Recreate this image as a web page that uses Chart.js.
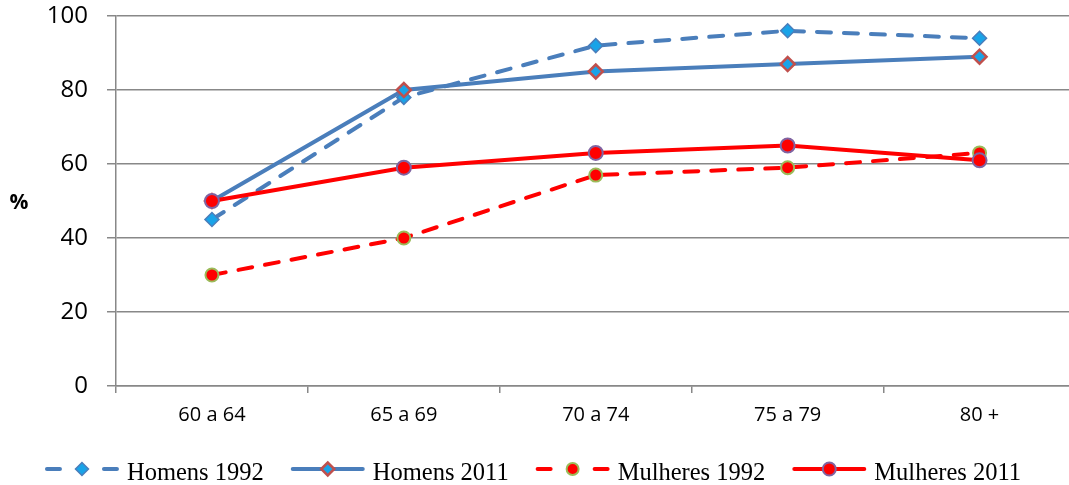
<!DOCTYPE html>
<html lang="pt">
<head>
<meta charset="utf-8">
<title>Homens e Mulheres, 1992 e 2011</title>
<script src="https://cdn.jsdelivr.net/npm/chart.js@4.4.1/dist/chart.umd.min.js"></script>
<style>
  html, body { margin: 0; padding: 0; background: #ffffff; overflow: hidden; }
  #wrap { width: 1085px; height: 485px; }
</style>
</head>
<body>
<div id="wrap"><canvas id="chart" width="1085" height="485"></canvas></div>
<script>
// Age groups and percentages per sex and year
const categories = ['60 a 64', '65 a 69', '70 a 74', '75 a 79', '80 +'];
const homens1992 = [45, 78, 92, 96, 94];
const homens2011 = [50, 80, 85, 87, 89];
const mulheres1992 = [30, 40, 57, 59, 63];
const mulheres2011 = [50, 59, 63, 65, 61];
const seriesNames = ['Homens 1992', 'Homens 2011', 'Mulheres 1992', 'Mulheres 2011'];
const yTicks = [0, 20, 40, 60, 80, 100];
const axisUnit = '%';

const BLUE = '#4a7ebb';
const CYAN = '#19a3e8';
const RED = '#ff0000';
const BRICK = '#c0504d';
const GREEN = '#9bbb59';
const PURPLE = '#8064a2';
const GRID = '#888888';
const DASH = [14, 13];

const datasets = [
  {
    label: seriesNames[0], data: homens1992, order: 3,
    borderColor: BLUE, borderWidth: 4, borderDash: DASH, borderCapStyle: 'round',
    pointStyle: 'rectRot', pointRadius: 7, pointBackgroundColor: CYAN,
    pointBorderColor: BLUE, pointBorderWidth: 1.5
  },
  {
    label: seriesNames[1], data: homens2011, order: 2,
    borderColor: BLUE, borderWidth: 4, borderCapStyle: 'round',
    pointStyle: 'rectRot', pointRadius: 7, pointBackgroundColor: CYAN,
    pointBorderColor: BRICK, pointBorderWidth: 2.5
  },
  {
    label: seriesNames[2], data: mulheres1992, order: 1,
    borderColor: RED, borderWidth: 4, borderDash: DASH, borderCapStyle: 'round',
    pointStyle: 'circle', pointRadius: 6.5, pointBackgroundColor: RED,
    pointBorderColor: GREEN, pointBorderWidth: 2
  },
  {
    label: seriesNames[3], data: mulheres2011, order: 0,
    borderColor: RED, borderWidth: 4, borderCapStyle: 'round',
    pointStyle: 'circle', pointRadius: 7, pointBackgroundColor: RED,
    pointBorderColor: PURPLE, pointBorderWidth: 2
  }
];

// Bottom legend: line sample with marker, followed by the series name
const bottomLegend = {
  id: 'bottomLegend',
  afterDraw(chart) {
    const ctx = chart.ctx;
    const font = '24.5px "Liberation Serif", "Times New Roman", serif';
    ctx.save();
    ctx.font = font;
    const sample = 74, gapText = 8, gapItem = 27;
    const widths = chart.data.datasets.map(d => ctx.measureText(d.label).width);
    let total = 0;
    widths.forEach((w, i) => { total += sample + gapText + w + (i < widths.length - 1 ? gapItem : 0); });
    let x = 533 - total / 2;
    const yLine = 469, yText = 480;
    chart.data.datasets.forEach((d, i) => {
      ctx.save();
      ctx.strokeStyle = d.borderColor;
      ctx.lineWidth = 4;
      ctx.lineCap = 'round';
      ctx.beginPath();
      if (d.borderDash) {
        ctx.moveTo(x + 2, yLine); ctx.lineTo(x + 15, yLine);
        ctx.moveTo(x + sample - 15, yLine); ctx.lineTo(x + sample - 2, yLine);
      } else {
        ctx.moveTo(x + 2, yLine); ctx.lineTo(x + sample - 2, yLine);
      }
      ctx.stroke();
      ctx.fillStyle = d.pointBackgroundColor;
      ctx.strokeStyle = d.pointBorderColor;
      ctx.lineWidth = d.pointBorderWidth;
      Chart.helpers.drawPoint(ctx, {
        pointStyle: d.pointStyle, radius: d.pointRadius - 0.5, borderWidth: d.pointBorderWidth
      }, x + sample / 2, yLine);
      ctx.restore();
      ctx.fillStyle = '#000000';
      ctx.font = font;
      ctx.textAlign = 'left';
      ctx.textBaseline = 'alphabetic';
      ctx.fillText(d.label, x + sample + gapText, yText);
      x += sample + gapText + widths[i] + gapItem;
    });
    ctx.restore();
  }
};

// Horizontal unit label beside the value axis
const unitLabel = {
  id: 'unitLabel',
  afterDraw(chart) {
    const ctx = chart.ctx;
    ctx.save();
    ctx.font = 'bold 21px "Open Sans", "Liberation Sans", sans-serif';
    ctx.fillStyle = '#000000';
    ctx.textAlign = 'center';
    ctx.textBaseline = 'middle';
    ctx.fillText(axisUnit, 19, 203);
    ctx.restore();
  }
};

new Chart(document.getElementById('chart'), {
  type: 'line',
  data: { labels: categories, datasets },
  plugins: [bottomLegend, unitLabel],
  options: {
    responsive: false,
    animation: false,
    layout: { padding: { left: 0, right: 4, top: 16, bottom: 49 } },
    plugins: { legend: { display: false }, tooltip: { enabled: false } },
    elements: { line: { tension: 0, fill: false } },
    scales: {
      x: {
        offset: true,
        grid: {
          display: true, drawOnChartArea: false, drawTicks: true,
          tickLength: 7, offset: true, color: GRID, lineWidth: 1.5
        },
        border: { display: true, color: GRID, width: 1.5 },
        ticks: {
          color: '#000000', padding: 10, maxRotation: 0,
          font: { family: '"Open Sans", "Liberation Sans", sans-serif', size: 20 }
        },
        afterFit(scale) { scale.height = 50; }
      },
      y: {
        min: 0, max: 100,
        afterBuildTicks(scale) { scale.ticks = yTicks.map(v => ({ value: v })); },
        grid: { color: GRID, lineWidth: 1.5, tickLength: 9, drawTicks: true },
        border: { display: true, color: GRID, width: 1.5 },
        ticks: {
          color: '#000000', padding: 19,
          font: { family: '"Open Sans", "Liberation Sans", sans-serif', size: 24 }
        },
        afterFit(scale) {
          scale.width = 116;
          // the horizontal label gap should not push the plot area down
          scale.paddingTop = 0;
          scale.paddingBottom = 0;
        }
      }
    }
  }
});
</script>
</body>
</html>
